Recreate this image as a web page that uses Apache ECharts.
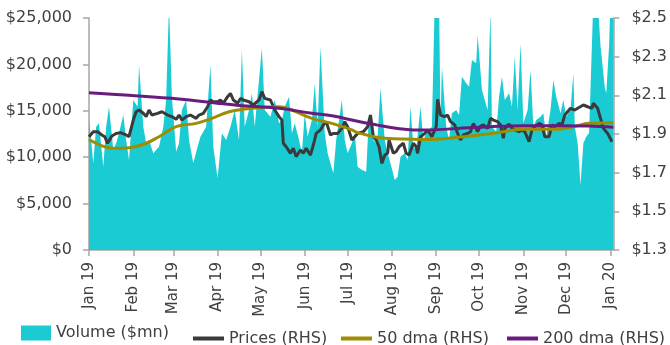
<!DOCTYPE html>
<html><head><meta charset="utf-8">
<script src="https://cdn.jsdelivr.net/npm/echarts@6/dist/echarts.min.js"></script>
<style>html,body{margin:0;padding:0;background:#fff}#c{width:670px;height:345px}</style>
</head><body><div id="c"></div>
<script>
// x = days since 1 Jan 2019 (daily category axis)
const tickDays = [0,31,59,90,120,151,181,212,243,273,304,334,365];
const tickLabels = ['Jan 19','Feb 19','Mar 19','Apr 19','May 19','Jun 19','Jul 19','Aug 19','Sep 19','Oct 19','Nov 19','Dec 19','Jan 20'];
const lastDay = 367;

// Volume ($mn), left axis
const volume = [[0,14190],[3,9340],[5,13290],[7,13650],[10,8980],[12,13290],[14,15440],[17,10780],[19,11500],[21,12570],[24,14550],[26,11850],[28,9700],[31,16160],[34,15440],[35,19940],[38,13290],[40,11500],[42,11850],[45,10420],[47,10780],[49,11130],[52,13290],[54,16160],[56,26500],[58,16520],[61,10600],[63,11500],[65,15090],[68,16160],[70,11850],[73,9340],[76,11130],[78,12210],[82,13290],[85,19940],[87,11130],[90,7720],[93,12570],[96,11850],[99,13290],[102,15090],[105,11850],[107,21550],[109,13290],[112,15090],[114,16880],[116,13290],[121,21730],[123,15090],[127,14370],[130,16160],[133,13650],[135,14010],[137,15440],[140,16520],[142,12570],[144,13650],[147,11850],[149,10420],[151,14730],[153,12210],[156,14010],[158,17960],[160,13290],[162,21910],[165,12570],[167,10420],[171,8260],[173,11850],[177,16160],[179,11850],[181,10420],[184,11500],[186,12570],[188,8980],[191,8620],[194,8440],[196,14730],[199,11850],[201,11500],[202,12210],[204,17420],[207,11850],[209,10420],[211,9340],[214,7540],[216,7900],[218,10060],[221,10420],[223,9700],[225,15440],[227,11130],[229,10780],[232,15440],[234,11850],[236,12570],[238,12930],[240,13290],[242,27000],[245,27000],[246,13650],[247,19760],[250,13290],[252,11850],[254,14730],[257,15090],[259,14550],[261,18680],[264,17960],[266,17600],[268,20470],[271,20120],[272,23170],[275,17240],[277,16160],[279,15090],[281,26000],[282,13290],[285,12750],[287,16520],[289,18680],[291,16160],[294,16880],[296,15440],[298,20830],[300,15090],[302,22270],[304,13650],[307,15090],[309,19400],[311,13290],[313,14010],[316,14370],[318,14730],[320,12210],[323,15090],[325,18320],[327,16520],[330,14730],[332,16160],[334,14370],[337,15090],[339,19040],[340,13290],[342,11500],[344,7000],[346,11500],[348,12210],[350,12600],[353,27000],[356,27000],[358,22000],[361,17500],[362,16900],[364,22000],[365,27000],[367,27000]];

// Prices (RHS)
const prices = [[0,1.886],[3,1.912],[6,1.912],[9,1.895],[11,1.886],[13,1.852],[16,1.890],[19,1.903],[22,1.907],[26,1.895],[28,1.886],[31,1.972],[33,2.015],[35,2.024],[38,2.007],[40,1.990],[42,2.024],[44,1.998],[48,2.007],[51,2.015],[55,1.998],[58,1.990],[61,1.976],[63,1.998],[65,1.972],[68,1.990],[71,1.998],[75,1.981],[77,1.998],[80,2.007],[83,2.041],[85,2.076],[87,2.067],[90,2.067],[92,2.076],[94,2.059],[97,2.093],[99,2.110],[101,2.076],[104,2.059],[106,2.084],[108,2.076],[112,2.067],[115,2.050],[119,2.076],[121,2.119],[123,2.084],[127,2.076],[130,2.024],[133,1.990],[135,1.972],[136,1.852],[138,1.834],[141,1.800],[143,1.826],[145,1.783],[148,1.817],[150,1.800],[152,1.826],[155,1.791],[157,1.843],[159,1.903],[162,1.921],[164,1.947],[166,1.964],[169,1.895],[171,1.903],[174,1.903],[177,1.929],[179,1.964],[181,1.938],[184,1.869],[186,1.886],[188,1.903],[192,1.912],[195,1.938],[197,1.998],[199,1.886],[201,1.869],[203,1.834],[205,1.748],[207,1.791],[209,1.800],[210,1.869],[213,1.800],[215,1.809],[217,1.834],[220,1.852],[222,1.800],[224,1.791],[227,1.852],[229,1.834],[230,1.800],[232,1.886],[235,1.903],[237,1.921],[238,1.929],[240,1.886],[243,1.938],[244,2.079],[246,1.998],[249,1.990],[251,1.998],[253,1.964],[256,1.947],[258,1.903],[260,1.869],[262,1.895],[265,1.903],[267,1.912],[269,1.955],[272,1.912],[274,1.941],[276,1.947],[279,1.929],[281,1.981],[283,1.972],[286,1.964],[288,1.947],[290,1.878],[291,1.929],[294,1.952],[296,1.929],[298,1.921],[301,1.912],[303,1.921],[305,1.912],[308,1.860],[310,1.921],[312,1.938],[315,1.955],[317,1.947],[319,1.886],[322,1.886],[324,1.947],[326,1.938],[329,1.955],[331,1.947],[333,1.998],[337,2.033],[340,2.024],[342,2.033],[346,2.050],[349,2.041],[352,2.033],[353,2.059],[356,2.033],[360,1.929],[363,1.903],[366,1.860]];

// 50 dma (RHS)
const dma50 = [[0,1.872],[17,1.826],[28,1.829],[40,1.852],[49,1.886],[61,1.938],[75,1.955],[86,1.981],[98,2.015],[109,2.029],[123,2.038],[133,2.041],[142,2.024],[156,1.981],[170,1.955],[184,1.921],[188,1.907],[207,1.878],[235,1.872],[258,1.883],[286,1.907],[304,1.924],[327,1.924],[339,1.938],[350,1.955],[367,1.958]];

// 200 dma (RHS)
const dma200 = [[0,2.113],[28,2.100],[63,2.081],[91,2.058],[105,2.048],[133,2.033],[156,2.007],[170,1.994],[188,1.966],[202,1.946],[216,1.929],[230,1.921],[239,1.921],[258,1.929],[281,1.938],[304,1.943],[327,1.943],[350,1.942],[367,1.935]];

const dayCats = [];
for (let d = 0; d <= lastDay; d++) dayCats.push(String(d));
const isTick = i => tickDays.indexOf(i) >= 0;

const axisColor = '#A6A6A6';
const txt = '#404040';
const font = 'DejaVu Sans';
const legText = {fontSize: 16, color: txt, fontFamily: font};

const chart = echarts.init(document.getElementById('c'), null, {renderer:'canvas'});
chart.setOption({
  animation: false,
  textStyle: {fontFamily: font},
  grid: {left: 89, right: 53, top: 18, bottom: 95},
  xAxis: {
    type: 'category', data: dayCats, boundaryGap: false,
    splitLine: {show: false},
    axisLine: {onZero: false, lineStyle: {color: axisColor, width: 1.5}},
    axisTick: {show: true, interval: (i) => isTick(i), length: 6, lineStyle: {color: axisColor, width: 1.5}},
    axisLabel: {interval: (i) => isTick(i), rotate: 90, margin: 12, fontSize: 15, color: txt, fontFamily: font,
      formatter: (v) => tickLabels[tickDays.indexOf(Number(v))] || ''}
  },
  yAxis: [
    {type: 'value', position: 'left', min: 0, max: 25000, interval: 5000, splitLine: {show: false},
     axisLine: {show: true, lineStyle: {color: axisColor, width: 1.5}},
     axisTick: {show: true, length: 6, lineStyle: {color: axisColor, width: 1.5}},
     axisLabel: {margin: 17, fontSize: 16, color: txt, fontFamily: font, formatter: v => '$' + Number(v).toLocaleString('en-US')}},
    {type: 'value', position: 'right', min: 1.3, max: 2.5, interval: 0.2, splitLine: {show: false},
     axisLine: {show: true, lineStyle: {color: axisColor, width: 1.5}},
     axisTick: {show: true, length: 6, lineStyle: {color: axisColor, width: 1.5}},
     axisLabel: {margin: 18, fontSize: 16, color: txt, fontFamily: font, formatter: v => '$' + Number(v).toFixed(1)}}
  ],
  legend: [
    {data: ['Volume ($mn)'], left: 21, top: 325, padding: 0, icon: 'rect', itemWidth: 30, itemHeight: 15, textStyle: legText},
    {data: ['Prices (RHS)'], left: 193, top: 330.5, padding: 0, icon: 'rect', itemWidth: 31, itemHeight: 4, textStyle: legText},
    {data: ['50 dma (RHS)'], left: 341, top: 330.5, padding: 0, icon: 'rect', itemWidth: 31, itemHeight: 4, textStyle: legText},
    {data: ['200 dma (RHS)'], left: 507, top: 330.5, padding: 0, icon: 'rect', itemWidth: 31, itemHeight: 4, textStyle: legText}
  ],
  series: [
    {name: 'Volume ($mn)', type: 'line', yAxisIndex: 0, data: volume, showSymbol: false, symbol: 'none', color: '#1ACBD3',
     lineStyle: {width: 0}, areaStyle: {color: '#1ACBD3', opacity: 1}, z: 1},
    {name: 'Prices (RHS)', type: 'line', yAxisIndex: 1, data: prices, showSymbol: false, symbol: 'none', color: '#3A3A3A',
     lineStyle: {width: 3}, z: 2},
    {name: '50 dma (RHS)', type: 'line', yAxisIndex: 1, data: dma50, showSymbol: false, symbol: 'none', smooth: 0.4, color: '#A08C00',
     lineStyle: {width: 3}, z: 3},
    {name: '200 dma (RHS)', type: 'line', yAxisIndex: 1, data: dma200, showSymbol: false, symbol: 'none', smooth: 0.4, color: '#6A1B7E',
     lineStyle: {width: 3}, z: 4}
  ]
});
</script></body></html>
